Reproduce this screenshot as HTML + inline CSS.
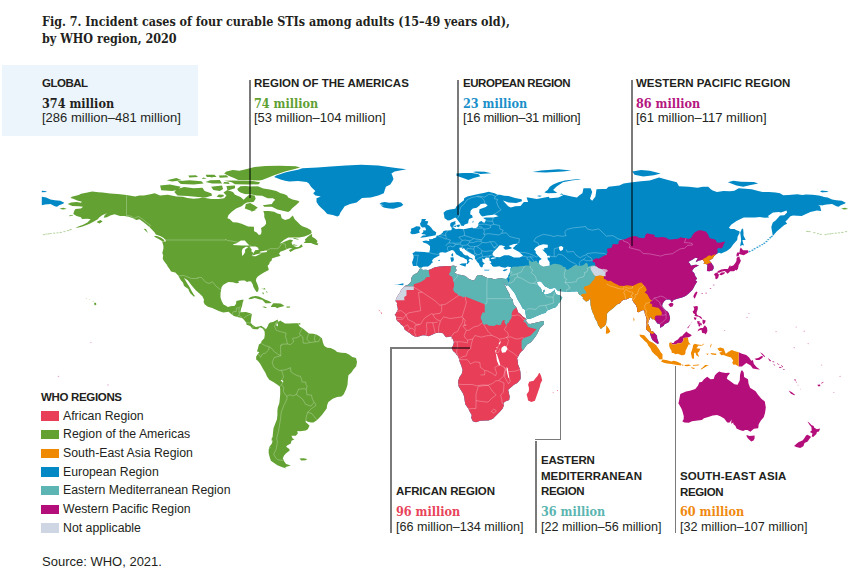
<!DOCTYPE html>
<html><head><meta charset="utf-8"><title>Fig. 7</title>
<style>
html,body{margin:0;padding:0;background:#fff;}
body{width:868px;height:585px;position:relative;overflow:hidden;font-family:"Liberation Sans",Arial,sans-serif;color:#231f20;}
.t{position:absolute;white-space:nowrap;}
.title{left:42px;top:14px;font-family:"DejaVu Serif Condensed","Liberation Serif",serif;font-weight:bold;font-size:12.44px;line-height:16.9px;color:#231f20;}
.glob{position:absolute;left:2px;top:65px;width:196px;height:71px;background:#ecf5fc;}
.h{font-size:11.5px;font-weight:bold;}
.n{font-family:"DejaVu Serif Condensed","Liberation Serif",serif;font-weight:bold;font-size:12.5px;}
.r{font-size:13px;}
.vl{position:absolute;width:1.6px;background:rgba(0,0,0,0.52);}
.hl{position:absolute;height:1.6px;background:rgba(0,0,0,0.52);}
.lg{font-size:12.3px;}
.sw{position:absolute;left:41px;width:18.4px;height:9.3px;}
</style></head><body>
<svg width="868" height="585" viewBox="0 0 868 585" style="position:absolute;left:0;top:0">
<defs><clipPath id="ae"><path d="M419.8 268.7L418.9 270.5L417.8 272.6L416.1 273.5L414.1 274.4L412.4 275.9L411.3 278.3L411.5 280.5L410.5 282.6L407.6 285.0L404.6 285.9L403.1 287.9L401.1 289.8L400.3 292.0L398.3 294.8L396.8 297.4L395.7 300.0L395.6 301.3L397.2 303.1L396.8 304.6L397.6 307.4L397.9 309.6L396.8 311.8L395.5 314.0L394.6 314.6L395.7 315.7L396.3 317.9L396.1 319.6L397.9 321.6L400.0 322.9L400.9 324.4L403.1 325.9L403.9 327.2L404.6 329.4L406.5 330.9L408.3 332.2L410.0 333.3L412.0 334.9L415.2 336.8L416.3 337.1L419.6 336.2L422.8 335.3L426.1 335.5L428.3 336.3L430.4 335.5L433.7 334.0L435.2 333.3L438.0 332.8L440.2 332.7L442.4 332.9L443.9 334.4L445.2 336.6L446.7 337.2L448.9 336.8L451.1 336.6L452.1 338.1L453.2 340.1L453.9 342.2L453.4 344.4L452.8 345.9L451.7 348.1L453.0 351.0L455.4 353.1L456.7 355.1L458.2 356.8L459.1 359.2L459.3 360.7L461.3 365.7L462.6 369.9L461.7 374.0L459.7 376.8L459.1 378.1L458.2 381.0L458.2 384.2L458.7 386.6L460.8 390.1L463.0 393.4L464.1 396.4L464.7 401.0L465.4 404.5L468.4 408.8L469.9 411.9L471.7 415.1L471.2 418.0L472.5 420.4L472.8 421.3L476.0 422.3L480.4 420.8L486.9 420.6L488.4 420.6L491.2 419.5L493.2 418.4L496.6 415.1L499.9 411.7L502.7 408.6L504.0 404.9L503.4 402.9L505.3 401.6L509.2 399.9L509.7 396.6L509.2 394.5L508.2 390.1L508.2 389.7L510.8 387.5L514.0 384.7L517.3 382.9L520.5 379.2L520.7 377.1L520.5 372.7L519.9 369.0L517.9 364.0L517.9 361.4L517.1 358.6L517.5 357.7L518.8 355.4L519.7 353.6L521.4 351.6L522.9 350.3L524.9 347.5L527.0 344.4L530.9 342.2L533.6 339.0L535.7 336.2L537.9 332.5L539.8 328.1L542.2 325.9L544.0 324.0L543.9 320.9L541.1 321.6L537.9 322.2L534.6 322.9L530.3 324.0L528.1 323.8L526.6 321.6L525.5 321.4L526.6 319.4L525.3 318.3L522.7 316.4L520.5 314.0L518.4 312.7L516.4 307.4L513.4 304.0L512.7 299.8L509.9 296.6L509.7 294.4L507.5 290.5L506.2 287.9L505.3 286.1L503.4 281.5L504.2 282.4L505.5 285.0L507.1 286.1L507.7 284.6L508.4 282.4L508.6 282.6L508.2 285.5L509.9 287.2L511.8 289.6L514.0 292.2L515.3 294.2L517.7 299.8L520.5 304.2L522.7 308.5L525.1 309.8L525.5 312.9L525.7 314.4L526.4 317.7L527.0 319.1L530.3 318.8L533.6 317.4L536.8 316.1L539.2 315.1L542.2 313.7L545.9 312.7L546.6 310.7L549.8 309.6L553.1 307.9L555.3 307.4L557.4 305.5L558.1 303.7L560.0 302.0L562.4 297.6L559.8 295.3L556.3 294.4L555.7 293.5L554.8 291.1L554.8 289.2L554.0 290.5L552.7 291.6L550.7 293.3L547.7 294.0L545.5 294.4L544.0 293.7L543.8 293.1L544.6 291.6L544.6 289.8L543.5 290.0L542.9 292.2L542.5 292.6L541.6 290.9L541.4 289.2L540.3 287.6L538.5 286.1L536.8 282.6L537.9 281.4L540.1 281.3L541.6 282.2L542.9 283.7L544.4 285.9L547.0 287.2L549.8 288.7L553.1 288.3L554.8 287.4L557.0 290.0L558.1 290.9L560.7 291.3L564.2 291.6L567.9 292.0L571.5 291.6L574.8 291.6L577.4 291.3L578.1 292.6L579.1 294.4L580.7 295.3L582.0 296.6L583.5 297.2L582.4 298.1L583.7 299.6L585.7 301.3L586.7 301.6L588.9 300.3L590.2 298.3L590.4 300.7L590.6 305.3L591.3 308.5L592.8 312.9L593.9 315.1L595.0 318.5L597.2 322.0L598.0 325.1L600.9 329.0L602.4 327.5L604.1 326.4L606.0 324.2L606.9 318.1L606.7 314.0L608.9 311.4L613.4 308.1L617.1 304.6L620.4 303.1L621.5 300.9L624.1 299.6L626.9 299.2L629.1 298.1L631.9 298.1L632.3 300.0L633.4 302.0L634.3 302.9L636.0 305.3L637.3 308.5L637.1 311.8L638.8 312.2L641.5 310.5L643.2 310.0L644.5 310.7L644.9 314.0L645.8 316.1L646.7 319.6L646.4 323.8L646.7 324.8L646.0 329.2L648.6 331.4L649.7 332.2L650.4 334.9L651.4 337.9L652.5 340.1L654.5 341.8L657.3 343.8L658.8 343.6L658.2 341.2L657.1 338.3L657.1 336.2L656.4 335.1L654.7 333.3L653.0 331.6L652.3 331.6L651.0 330.9L650.1 328.1L649.5 326.4L648.0 323.8L648.6 320.9L649.5 319.2L649.7 317.4L650.8 317.2L651.7 317.4L651.7 319.0L652.7 319.2L653.4 319.0L654.7 320.1L655.3 320.5L656.0 321.4L657.3 323.5L659.0 323.8L660.1 324.4L660.1 327.9L661.6 327.0L663.8 325.7L664.5 324.2L665.1 324.0L667.1 322.9L669.0 322.0L669.7 319.8L670.1 317.2L669.7 316.6L668.8 313.3L667.5 311.6L666.2 310.7L664.0 308.5L662.1 305.9L662.7 303.5L664.2 301.3L666.0 299.8L668.2 299.4L670.3 299.8L671.8 302.4L673.6 300.0L675.8 299.2L679.0 298.3L680.5 298.1L683.4 297.0L686.0 295.7L689.0 293.3L692.3 290.0L693.8 287.4L694.6 285.7L697.2 281.5L695.3 280.2L697.2 278.7L695.3 275.9L694.2 273.1L692.0 271.1L694.0 268.1L699.0 265.2L696.2 264.8L693.6 265.0L690.9 265.7L689.9 263.5L688.3 262.0L689.9 261.1L692.3 259.8L695.3 257.8L697.9 258.3L696.4 260.4L695.7 262.2L698.5 260.7L702.5 259.8L703.3 260.4L704.6 262.4L703.5 263.9L705.5 263.9L707.2 264.6L707.4 265.2L707.2 267.2L707.0 270.5L706.8 271.1L709.4 271.3L712.7 270.2L713.7 268.3L713.5 266.1L712.4 264.4L711.1 262.6L709.4 260.7L709.2 261.3L709.4 260.0L712.0 258.9L714.4 255.7L715.9 254.6L719.0 252.8L721.1 253.5L726.8 251.1L730.7 248.0L733.3 244.3L737.2 240.1L737.6 236.7L739.6 233.0L739.4 231.3L736.5 230.2L734.4 228.9L730.7 229.1L728.9 227.8L731.1 224.8L736.5 220.9L743.7 217.4L748.5 217.4L755.0 217.6L760.0 216.9L764.8 217.8L769.1 217.6L768.0 216.1L773.0 212.6L778.9 211.9L781.0 212.6L786.5 210.6L787.1 212.4L784.3 215.2L780.0 215.6L775.6 220.4L772.8 222.6L771.3 226.9L772.4 233.5L772.8 235.9L776.3 231.9L776.9 231.3L779.7 229.1L784.3 225.0L787.1 223.7L785.4 221.5L787.1 220.0L790.4 216.3L793.0 215.4L801.7 216.1L806.0 213.9L810.4 212.1L816.9 210.6L821.2 211.1L820.1 206.3L818.0 205.6L821.2 205.2L823.4 205.2L823.4 196.7L819.0 195.6L812.5 194.7L806.0 194.5L802.3 195.0L797.3 194.3L788.6 195.0L783.2 195.2L780.0 193.2L775.6 192.6L769.1 192.1L762.6 192.1L758.2 191.0L751.7 189.3L745.2 188.7L738.7 188.2L734.4 190.8L730.0 191.3L723.5 191.0L717.0 192.1L712.7 190.4L710.5 188.9L708.3 186.7L702.9 186.7L697.5 187.8L688.8 186.7L679.0 186.3L676.8 182.3L667.1 179.7L659.0 177.6L649.7 180.6L641.0 181.3L632.3 182.3L623.6 183.4L619.3 185.6L608.5 186.7L606.3 188.9L601.9 189.1L596.5 189.3L595.4 196.5L592.2 200.8L590.0 198.7L592.2 192.1L590.6 188.2L583.5 188.2L582.4 193.2L579.1 195.4L577.0 197.6L571.5 196.5L563.9 194.7L558.5 197.4L549.8 198.2L548.7 196.7L536.8 199.1L528.1 197.6L526.6 197.4L528.1 201.9L523.8 202.1L520.5 206.1L515.1 206.3L510.8 207.4L508.2 206.3L502.9 200.6L508.6 202.4L516.2 203.0L522.0 201.3L521.6 199.3L515.1 198.0L508.6 196.0L504.2 195.8L499.9 194.7L497.7 194.7L494.5 193.2L488.6 191.7L483.6 193.0L478.2 193.9L473.8 195.0L467.3 196.5L464.1 198.2L463.9 200.2L459.7 203.4L456.5 206.3L455.2 208.7L450.0 209.5L446.1 210.6L443.5 212.8L444.1 215.2L444.5 218.2L445.0 218.5L447.8 220.4L450.0 220.2L453.4 218.5L455.2 217.6L456.0 218.0L456.5 218.5L458.4 221.1L460.4 223.7L460.8 225.6L463.6 225.9L464.7 224.5L468.2 223.2L468.4 220.9L469.1 219.1L472.8 217.4L472.1 215.2L470.2 214.3L470.6 210.8L472.8 208.4L476.7 207.8L479.3 205.8L480.8 203.9L485.1 203.4L487.7 205.2L485.8 206.9L479.5 209.3L479.1 212.4L479.3 212.8L480.8 215.2L482.5 216.5L486.9 215.6L491.2 215.0L494.9 214.5L498.4 216.3L493.4 217.4L486.2 217.4L483.6 217.8L483.6 218.5L485.8 219.5L484.9 222.6L483.0 222.6L481.7 221.0L479.5 221.7L478.2 223.7L478.4 225.4L477.1 227.2L475.2 228.2L473.2 228.2L472.3 227.4L467.3 228.5L463.6 229.3L458.9 228.7L456.5 229.1L456.0 229.3L454.5 228.2L453.2 227.4L453.9 226.9L453.2 225.9L454.1 225.0L454.7 224.4L456.3 223.9L455.0 223.2L455.4 222.2L455.6 221.1L451.3 222.4L450.2 223.7L450.2 225.9L451.3 227.2L451.9 229.1L451.1 230.2L447.8 230.4L445.6 230.4L443.5 231.1L442.8 232.4L441.3 233.7L440.0 234.8L438.0 235.4L436.5 235.8L436.1 237.4L433.0 238.5L432.8 238.9L430.0 239.3L429.1 238.7L429.3 240.9L428.3 240.9L426.1 240.4L422.4 241.3L423.3 242.6L427.2 243.7L427.8 244.3L430.0 246.1L430.0 248.7L430.0 249.6L429.3 252.0L428.3 252.4L426.1 252.2L424.4 252.0L419.6 251.7L415.2 251.5L414.4 252.2L412.4 253.3L413.3 255.0L413.7 257.0L413.1 259.6L412.0 262.4L413.1 266.1L415.4 266.1L417.4 265.7L418.9 267.2L420.4 268.3L421.0 268.1L423.0 266.8L427.4 266.5L427.8 266.8L430.4 264.8L431.5 263.3L433.0 262.2L431.9 260.7L433.7 258.5L437.4 256.5L439.5 255.4L439.3 253.0L440.2 252.4L442.4 252.2L444.3 252.4L445.4 252.8L448.4 251.5L451.9 250.0L453.9 250.7L455.4 253.0L456.5 254.4L459.3 255.9L460.8 257.0L463.6 257.8L465.2 258.9L466.7 259.6L467.3 261.8L466.5 263.9L467.6 263.9L468.6 262.8L469.7 261.8L468.4 260.2L469.9 258.5L471.7 259.6L472.5 260.0L472.8 259.1L471.7 258.3L469.3 257.2L467.8 255.4L465.2 255.2L463.4 254.1L461.9 251.7L460.0 250.7L459.3 247.8L462.6 247.4L462.1 248.5L462.8 249.1L463.9 248.0L465.2 249.8L468.2 252.0L471.9 253.9L473.8 255.0L474.9 256.3L474.9 258.5L476.0 260.2L477.5 262.2L478.6 263.3L479.5 265.2L480.1 266.5L481.4 267.4L482.5 266.5L483.0 267.4L482.8 265.0L484.1 264.1L484.7 263.5L482.5 261.8L482.3 258.3L484.3 259.6L485.8 257.6L489.0 257.8L489.5 258.9L489.5 260.7L490.6 261.1L491.4 263.1L489.9 263.3L491.9 265.0L492.1 266.1L493.8 266.8L495.8 266.8L499.2 266.3L502.1 267.2L505.3 267.8L507.7 266.5L509.7 267.0L511.2 267.0L510.5 268.5L510.3 269.4L510.5 270.7L510.3 271.8L509.7 272.8L508.6 275.2L508.2 276.8L507.3 278.1L506.0 278.9L502.7 278.5L501.0 277.9L497.5 278.7L493.4 279.2L491.7 278.3L487.3 277.9L484.7 276.8L481.7 275.2L478.2 275.0L476.2 276.8L475.2 279.6L472.8 280.5L469.5 279.2L468.6 278.7L465.4 276.1L461.3 275.0L457.6 274.4L454.5 272.8L456.0 271.1L456.7 270.0L455.6 268.7L456.5 265.9L454.7 266.5L454.1 265.5L449.5 266.3L446.7 266.1L439.3 266.5L434.8 267.2L431.3 268.9L427.8 270.2L426.1 269.8L422.8 270.0L421.1 268.5Z"/></clipPath></defs>
<path fill="#62a132" d="M67.7 203.9L71.1 202.6L76.6 201.9L80.9 202.8L82.0 201.7L77.2 200.6L73.3 198.7L70.5 197.9L71.8 196.7L78.7 195.0L81.1 193.7L87.4 192.6L92.2 191.4L98.3 192.3L102.6 192.6L110.2 193.5L117.8 194.1L126.5 195.1L135.2 196.5L139.5 195.4L143.9 195.4L150.4 194.3L154.7 193.2L160.1 195.6L167.7 194.7L176.4 196.5L182.9 196.7L187.3 198.0L193.8 198.7L199.2 198.2L202.5 197.4L211.2 199.1L218.8 198.9L224.2 198.2L226.4 195.4L223.5 192.6L227.4 190.0L232.9 192.1L235.0 194.7L240.5 196.9L243.7 199.7L245.9 197.6L249.2 194.7L254.6 195.4L255.7 198.7L253.5 201.9L247.0 202.4L244.2 204.1L241.6 206.3L236.1 208.4L231.8 211.7L228.5 215.0L227.4 218.2L229.6 218.9L232.9 222.2L237.2 222.6L241.6 223.7L248.1 226.5L253.9 226.7L254.1 231.3L256.7 232.4L258.9 235.0L261.1 234.3L261.5 231.3L261.1 228.0L264.3 225.9L266.1 223.7L265.9 220.9L264.3 217.2L264.3 213.9L263.3 211.1L268.7 211.1L274.1 211.7L277.4 213.5L280.6 214.3L281.7 218.2L285.0 220.0L289.3 218.7L291.5 216.7L292.8 215.4L294.7 219.3L298.0 222.6L300.2 224.8L302.3 226.3L307.1 228.0L311.0 230.2L311.7 233.0L308.9 234.8L304.5 236.5L299.1 237.6L293.7 237.4L288.2 237.4L283.9 240.0L279.5 243.7L281.7 243.0L286.1 240.9L290.4 239.6L293.2 240.4L291.5 242.2L292.1 244.3L293.7 246.1L296.9 247.2L299.1 246.7L301.3 244.3L302.8 246.5L300.2 248.0L294.7 249.6L290.4 252.0L288.9 250.2L292.6 248.0L289.3 248.3L287.1 249.1L283.9 250.4L280.2 251.7L278.9 253.9L280.6 255.2L279.3 256.3L276.3 257.0L271.9 258.5L271.7 260.4L269.8 262.0L269.3 263.9L267.6 265.7L268.5 268.5L268.7 270.0L266.3 271.3L263.5 272.8L260.7 274.4L257.8 276.5L256.3 278.5L255.9 280.7L257.6 284.8L258.7 288.5L258.1 291.6L256.5 292.0L255.0 289.8L253.3 286.8L252.8 284.6L251.1 281.5L249.2 281.3L247.0 282.0L244.8 280.5L241.6 280.5L238.3 280.9L238.9 283.1L236.1 283.3L232.9 282.2L228.5 282.0L226.4 283.1L223.1 285.0L221.6 287.2L221.1 290.0L220.5 293.3L220.5 297.6L221.6 300.9L223.5 304.6L226.4 306.1L227.7 307.0L231.8 306.1L234.4 305.9L236.1 303.7L236.3 300.9L241.6 299.8L243.7 299.8L242.6 303.1L242.0 306.4L241.1 308.5L240.5 311.8L241.6 312.2L245.9 312.0L250.2 313.3L252.0 314.0L251.3 317.2L250.9 320.5L250.7 322.7L252.4 324.8L255.7 327.0L258.9 326.4L261.1 325.7L263.7 327.5L264.8 327.9L265.9 329.2L267.6 326.4L268.7 323.8L270.2 322.5L273.0 322.0L275.9 320.5L277.4 319.6L278.5 321.6L277.2 323.1L280.2 320.5L281.7 321.6L285.0 323.5L289.3 323.5L293.7 323.3L298.0 323.3L298.4 324.8L300.2 327.0L302.3 328.1L305.6 330.7L308.9 333.5L313.2 333.8L316.5 334.4L319.7 336.4L321.9 338.3L323.0 342.7L324.1 345.5L325.1 346.6L327.3 347.7L330.6 348.1L334.9 349.9L337.1 352.0L341.4 352.7L345.8 352.9L349.0 354.6L352.3 357.0L356.0 358.1L357.0 362.0L356.2 366.2L353.4 369.4L351.2 372.7L348.4 375.3L347.9 379.2L347.5 384.7L346.2 389.0L344.7 392.3L343.6 394.5L341.4 396.6L337.1 396.9L332.7 398.8L328.4 402.1L327.1 405.3L326.7 408.6L324.1 411.9L321.9 415.1L318.6 418.4L316.5 420.6L313.4 422.5L311.0 422.5L307.8 421.7L305.8 420.6L305.6 421.9L308.4 424.5L309.5 425.8L307.8 429.3L305.6 430.6L300.2 431.2L297.3 431.0L297.8 433.6L295.8 435.8L291.5 435.8L292.6 438.6L294.5 439.3L291.5 440.8L290.8 443.4L287.1 445.6L286.1 446.7L289.3 448.9L289.7 450.6L286.1 453.2L283.9 455.8L282.8 458.6L284.1 460.6L283.9 461.0L286.1 464.1L290.8 465.6L288.2 466.3L285.0 467.3L286.5 468.4L281.7 466.9L277.4 465.2L274.1 463.0L270.9 460.8L269.8 457.6L268.7 453.2L268.7 448.9L270.9 446.7L268.5 448.0L271.9 443.4L273.0 439.1L272.6 436.9L273.0 432.5L273.5 428.2L275.2 423.8L276.9 419.5L277.4 415.1L277.4 410.8L277.8 407.5L279.3 403.2L279.8 398.8L280.2 394.5L280.2 389.0L279.8 386.4L277.4 384.7L274.1 382.5L269.3 379.7L267.0 376.6L265.4 372.7L262.8 368.4L260.2 363.8L257.8 360.7L256.3 359.7L256.1 356.8L257.8 354.0L259.4 352.0L257.0 351.4L258.1 347.7L258.9 344.6L261.1 343.1L261.5 341.2L264.3 338.3L264.8 334.6L264.6 331.4L262.6 328.5L260.0 327.2L257.8 329.2L255.7 329.2L252.6 329.0L250.2 325.9L246.5 324.8L246.3 322.7L243.7 319.4L242.0 317.9L238.3 317.2L234.0 316.1L231.8 314.6L228.5 311.8L225.3 312.2L223.1 312.4L218.8 311.1L215.5 309.6L212.2 307.9L207.9 306.8L204.6 304.2L203.6 302.0L204.0 299.8L202.5 296.6L199.2 293.3L196.0 290.5L192.7 286.8L190.5 283.9L187.7 280.2L184.0 278.1L187.3 283.5L189.4 286.8L191.6 291.1L193.4 294.0L194.9 296.1L194.0 296.8L192.7 295.5L190.5 293.5L189.0 291.1L188.4 288.9L185.1 286.8L184.0 285.7L182.9 282.4L180.8 280.2L179.0 277.0L178.2 275.5L175.3 272.6L171.0 271.5L169.9 269.4L167.7 266.5L166.7 264.4L165.6 263.3L163.8 260.7L162.7 258.7L163.2 255.2L162.3 253.0L163.4 248.7L163.4 245.9L162.1 241.3L165.6 241.7L165.6 240.0L163.4 237.8L160.1 236.1L155.8 234.6L154.7 232.4L150.4 228.0L148.2 225.9L143.9 222.6L139.5 219.3L136.3 220.0L133.0 218.2L128.7 216.7L124.3 216.1L120.0 216.1L114.5 214.3L110.2 215.4L107.0 217.2L103.7 217.8L104.8 215.0L107.0 213.2L102.6 215.0L99.4 217.2L97.8 219.3L93.9 221.5L89.6 223.7L85.2 225.4L80.9 226.9L75.5 228.0L77.6 226.7L83.1 224.8L87.4 222.6L90.7 219.3L87.4 218.7L82.0 219.1L80.9 217.2L76.6 216.1L73.3 214.1L74.4 210.6L75.5 209.1L80.9 208.4L83.1 206.7L78.7 206.3L72.2 206.1ZM299.5 201.7L295.8 205.2L291.9 208.4L290.4 210.4L288.2 211.9L283.9 211.1L277.4 209.5L271.9 206.7L264.3 206.7L262.8 205.2L271.9 204.1L273.0 201.9L275.2 199.7L273.0 198.2L267.6 198.2L262.2 195.8L256.7 195.4L250.2 194.3L244.8 193.9L240.5 192.6L238.3 191.0L237.2 188.9L240.5 186.3L245.9 186.0L250.2 186.5L257.8 186.3L263.3 188.4L269.8 189.5L276.3 191.0L280.6 193.2L283.9 193.9L287.1 195.6L288.2 197.6L292.6 199.5L298.0 200.8ZM258.9 180.6L262.2 179.9L269.8 176.9L274.1 175.2L280.6 173.0L285.0 171.5L293.7 169.3L300.2 167.5L295.8 166.2L279.5 165.8L265.4 166.0L254.6 167.1L245.9 169.3L239.4 170.8L232.9 169.9L226.4 171.5L224.2 173.6L228.5 175.8L234.0 178.0L238.3 179.9L243.7 180.2L252.4 180.2ZM258.9 184.3L248.1 184.5L235.0 184.3L231.8 182.3L224.2 180.8L232.9 180.4L241.6 180.8L252.4 181.0L260.0 182.3ZM235.0 185.6L226.4 186.0L227.4 190.0L229.6 190.0L235.0 188.2ZM222.0 185.6L211.2 186.7L213.3 190.0L219.8 191.0L223.1 188.9ZM212.2 195.4L205.7 197.6L198.1 196.9L187.3 196.0L177.5 195.4L174.3 192.1L177.5 188.9L184.0 187.1L193.8 188.2L202.5 187.8L204.6 191.0L211.2 193.2ZM172.1 191.0L161.2 190.2L160.1 185.6L169.9 184.5L180.8 186.7L177.5 190.0ZM224.2 196.0L220.9 197.6L216.6 196.7L218.8 194.5L223.1 194.7ZM203.6 183.4L193.8 184.5L180.8 183.9L177.5 181.3L189.4 180.2L201.4 181.3ZM222.0 183.4L212.2 183.6L205.7 182.1L210.1 180.2L219.8 179.9ZM206.8 178.6L201.8 179.1L203.3 177.6ZM213.3 177.3L210.5 177.6L211.6 176.5ZM229.6 183.9L223.1 183.6L224.2 182.1L228.5 182.3ZM181.8 180.2L172.1 181.5L166.7 180.2L176.4 178.0ZM216.6 176.9L206.8 177.1L205.7 174.7L214.4 174.7ZM228.5 177.3L219.8 177.8L218.8 175.4L226.4 175.2ZM198.1 176.9L189.4 177.6L188.4 175.6L196.0 175.2ZM257.8 207.8L252.4 211.3L244.8 208.4L245.9 204.1L250.2 203.0L254.6 205.6ZM256.7 209.8L251.3 211.7L251.3 210.0ZM303.6 243.0L305.6 241.1L304.9 239.6L307.8 236.7L311.0 234.3L312.1 234.3L312.1 236.7L315.4 238.7L317.5 240.9L316.5 243.3L318.4 243.3L317.5 245.2L315.4 244.8L313.2 243.9L311.0 243.0L307.8 243.0ZM298.4 239.8L292.6 238.5L294.7 238.0L298.4 239.1ZM298.0 245.7L292.8 245.2L293.7 244.3L296.9 245.2ZM164.7 241.3L161.9 240.9L159.1 239.3L155.8 237.6L153.8 236.1L156.9 236.1L161.2 237.8L163.6 239.6ZM148.2 233.0L146.0 231.3L143.6 228.7L146.0 229.1L146.9 230.9ZM102.6 221.5L99.4 223.5L96.5 221.9L100.4 220.0ZM66.8 209.1L62.4 209.5L59.6 208.4L63.5 207.8ZM73.3 215.8L69.0 216.3L69.6 215.2L72.6 215.2ZM248.3 299.0L250.2 297.2L252.4 296.6L255.7 296.1L258.9 296.6L262.2 297.9L265.4 299.8L267.6 300.5L269.8 301.6L271.7 302.7L269.8 303.3L265.4 303.3L263.9 301.6L262.2 299.8L260.0 299.6L256.7 298.5L254.6 298.1L252.4 298.7L249.6 299.2ZM270.9 306.6L273.2 303.3L275.2 303.3L280.6 303.5L282.8 304.8L284.3 306.1L281.7 306.8L278.5 307.4L277.4 308.3L275.2 307.0L271.1 307.0ZM262.4 306.8L264.3 306.4L267.2 307.4L265.4 307.9L263.3 307.2ZM286.5 306.6L290.2 306.6L290.0 307.4L286.7 307.7ZM298.2 324.6L300.4 324.6L300.2 323.1L298.6 323.3ZM263.3 294.4L263.9 293.3L262.8 292.0L262.4 293.3ZM261.1 288.7L263.3 288.7L265.0 288.1L265.4 289.4L263.3 289.2ZM265.9 291.3L267.2 291.6L267.4 292.9L266.5 292.2ZM94.1 304.0L95.0 305.5L96.5 304.2L95.7 302.7L94.4 302.7ZM92.4 301.1L93.9 301.6L93.1 301.8ZM88.9 299.6L90.2 300.3L89.6 299.4ZM85.7 298.7L86.8 298.7L86.3 298.3ZM68.3 230.2L71.8 229.1L71.1 230.0ZM299.5 458.6L303.4 458.2L307.3 458.9L305.6 460.2L301.3 460.4ZM271.9 437.5L273.2 437.5L273.0 440.8L271.5 440.6Z"/>
<path fill="#62a132" d="M848.3 209.1L844.0 209.5L841.2 208.4L845.1 207.8Z"/>
<path fill="#62a132" fill-opacity="0.45" d="M66.6 230.6a1.3 0.6 0 1 0 2.6 0a1.3 0.6 0 1 0 -2.6 0ZM63.1 231.6a1.3 0.6 0 1 0 2.6 0a1.3 0.6 0 1 0 -2.6 0ZM844.7 231.6a1.3 0.6 0 1 0 2.6 0a1.3 0.6 0 1 0 -2.6 0ZM59.4 232.4a1.3 0.6 0 1 0 2.6 0a1.3 0.6 0 1 0 -2.6 0ZM841.0 232.4a1.3 0.6 0 1 0 2.6 0a1.3 0.6 0 1 0 -2.6 0ZM56.2 232.8a1.3 0.6 0 1 0 2.6 0a1.3 0.6 0 1 0 -2.6 0ZM837.7 232.8a1.3 0.6 0 1 0 2.6 0a1.3 0.6 0 1 0 -2.6 0ZM52.9 233.1a1.3 0.6 0 1 0 2.6 0a1.3 0.6 0 1 0 -2.6 0ZM834.5 233.1a1.3 0.6 0 1 0 2.6 0a1.3 0.6 0 1 0 -2.6 0ZM49.6 233.5a1.3 0.6 0 1 0 2.6 0a1.3 0.6 0 1 0 -2.6 0ZM831.2 233.5a1.3 0.6 0 1 0 2.6 0a1.3 0.6 0 1 0 -2.6 0ZM47.5 233.8a1.3 0.6 0 1 0 2.6 0a1.3 0.6 0 1 0 -2.6 0ZM829.0 233.8a1.3 0.6 0 1 0 2.6 0a1.3 0.6 0 1 0 -2.6 0ZM45.1 234.0a1.3 0.6 0 1 0 2.6 0a1.3 0.6 0 1 0 -2.6 0ZM826.6 234.0a1.3 0.6 0 1 0 2.6 0a1.3 0.6 0 1 0 -2.6 0ZM42.7 234.6a1.3 0.6 0 1 0 2.6 0a1.3 0.6 0 1 0 -2.6 0ZM824.3 234.6a1.3 0.6 0 1 0 2.6 0a1.3 0.6 0 1 0 -2.6 0ZM819.5 234.3a1.3 0.6 0 1 0 2.6 0a1.3 0.6 0 1 0 -2.6 0ZM816.7 233.6a1.3 0.6 0 1 0 2.6 0a1.3 0.6 0 1 0 -2.6 0ZM813.0 232.6a1.3 0.6 0 1 0 2.6 0a1.3 0.6 0 1 0 -2.6 0ZM808.2 231.6a1.3 0.6 0 1 0 2.6 0a1.3 0.6 0 1 0 -2.6 0ZM806.0 231.4a1.3 0.6 0 1 0 2.6 0a1.3 0.6 0 1 0 -2.6 0Z"/>
<path fill="#0289c5" fill-opacity="0.8" d="M748.5 251.5a1.1 0.7 0 1 0 2.2 0a1.1 0.7 0 1 0 -2.2 0ZM751.3 250.2a1.1 0.7 0 1 0 2.2 0a1.1 0.7 0 1 0 -2.2 0ZM753.5 248.7a1.1 0.7 0 1 0 2.2 0a1.1 0.7 0 1 0 -2.2 0ZM756.3 247.2a1.1 0.7 0 1 0 2.2 0a1.1 0.7 0 1 0 -2.2 0ZM758.7 245.9a1.1 0.7 0 1 0 2.2 0a1.1 0.7 0 1 0 -2.2 0ZM761.1 244.6a1.1 0.7 0 1 0 2.2 0a1.1 0.7 0 1 0 -2.2 0ZM763.2 243.3a1.1 0.7 0 1 0 2.2 0a1.1 0.7 0 1 0 -2.2 0ZM765.4 241.5a1.1 0.7 0 1 0 2.2 0a1.1 0.7 0 1 0 -2.2 0ZM767.1 239.6a1.1 0.7 0 1 0 2.2 0a1.1 0.7 0 1 0 -2.2 0ZM769.1 237.8a1.1 0.7 0 1 0 2.2 0a1.1 0.7 0 1 0 -2.2 0ZM770.6 236.5a1.1 0.7 0 1 0 2.2 0a1.1 0.7 0 1 0 -2.2 0Z"/>
<path fill="#b40e7b" fill-opacity="0.6" d="M712.8 285.0a0.9 0.6 0 1 0 1.8 0a0.9 0.6 0 1 0 -1.8 0ZM709.6 288.5a0.9 0.6 0 1 0 1.8 0a0.9 0.6 0 1 0 -1.8 0ZM705.2 293.1a0.9 0.6 0 1 0 1.8 0a0.9 0.6 0 1 0 -1.8 0ZM701.3 293.5a0.9 0.6 0 1 0 1.8 0a0.9 0.6 0 1 0 -1.8 0Z"/>
<path fill="#b40e7b" fill-opacity="0.35" d="M57.7 376.4a0.8 0.6 0 1 0 1.6 0a0.8 0.6 0 1 0 -1.6 0ZM839.3 376.4a0.8 0.6 0 1 0 1.6 0a0.8 0.6 0 1 0 -1.6 0ZM51.4 392.5a0.8 0.6 0 1 0 1.6 0a0.8 0.6 0 1 0 -1.6 0ZM833.0 392.5a0.8 0.6 0 1 0 1.6 0a0.8 0.6 0 1 0 -1.6 0ZM107.2 384.9a0.8 0.6 0 1 0 1.6 0a0.8 0.6 0 1 0 -1.6 0ZM775.3 331.6a0.8 0.6 0 1 0 1.6 0a0.8 0.6 0 1 0 -1.6 0ZM803.5 331.2a0.8 0.6 0 1 0 1.6 0a0.8 0.6 0 1 0 -1.6 0ZM807.4 343.6a0.8 0.6 0 1 0 1.6 0a0.8 0.6 0 1 0 -1.6 0ZM820.8 365.1a0.8 0.6 0 1 0 1.6 0a0.8 0.6 0 1 0 -1.6 0ZM723.8 330.5a0.8 0.6 0 1 0 1.6 0a0.8 0.6 0 1 0 -1.6 0ZM746.2 317.4a0.8 0.6 0 1 0 1.6 0a0.8 0.6 0 1 0 -1.6 0ZM748.1 313.5a0.8 0.6 0 1 0 1.6 0a0.8 0.6 0 1 0 -1.6 0ZM795.4 327.0a0.8 0.6 0 1 0 1.6 0a0.8 0.6 0 1 0 -1.6 0ZM793.5 347.7a0.8 0.6 0 1 0 1.6 0a0.8 0.6 0 1 0 -1.6 0ZM90.1 342.5a0.8 0.6 0 1 0 1.6 0a0.8 0.6 0 1 0 -1.6 0ZM84.9 392.7a0.8 0.6 0 1 0 1.6 0a0.8 0.6 0 1 0 -1.6 0Z"/>
<path fill="#0289c5" d="M337.3 216.5L339.2 215.6L340.3 212.8L342.5 209.5L344.7 206.3L350.1 203.9L356.6 202.4L362.0 198.0L370.7 197.6L378.3 195.4L383.8 193.2L384.8 190.0L385.9 186.7L390.3 184.5L392.4 181.3L393.5 179.1L392.4 175.8L391.4 173.6L394.6 171.5L406.5 169.3L397.9 168.2L387.0 166.7L378.3 165.4L361.0 164.7L345.8 165.4L330.6 166.5L317.5 167.5L302.3 168.2L298.0 169.7L291.5 171.0L285.0 172.6L276.3 175.4L274.1 176.9L280.6 179.5L285.0 180.8L289.3 181.5L298.0 181.0L306.7 181.9L308.9 183.6L311.0 186.7L313.2 188.9L315.4 191.0L313.2 193.2L315.4 195.4L320.8 196.5L316.5 198.2L316.5 201.9L318.6 205.2L320.8 207.4L324.1 210.6L327.3 213.9L332.7 215.0ZM384.8 207.8L389.2 208.4L393.5 208.7L397.9 207.4L401.1 206.5L403.3 204.8L401.1 202.6L397.9 201.9L393.5 202.6L389.2 202.8L384.8 202.1L381.6 202.6L379.4 204.1L383.8 205.2L380.5 205.6L383.8 207.4ZM420.2 237.8L425.0 237.2L430.4 236.3L435.6 235.2L436.3 232.4L434.8 231.3L433.0 230.2L431.5 228.0L429.1 225.6L427.2 224.8L428.3 221.3L425.0 221.1L426.1 219.1L421.7 219.1L421.3 221.5L420.0 223.7L420.7 225.9L422.2 227.4L425.2 227.2L426.1 230.2L422.8 230.6L423.5 231.7L421.3 234.1L425.0 234.6L426.1 235.2L422.8 235.4ZM419.6 233.0L419.1 230.4L420.7 228.0L419.6 226.5L416.3 226.3L414.1 227.4L410.9 228.7L411.3 230.2L410.2 233.0L412.0 234.3L415.2 233.9L418.7 233.0ZM459.5 264.4L461.5 263.5L466.5 263.3L465.4 266.8L463.6 266.1L459.7 264.8ZM450.4 257.6L453.4 257.2L453.9 259.6L453.4 261.3L451.3 262.0L450.8 259.8ZM451.3 254.4L453.0 253.0L453.2 255.2L452.6 256.5L451.5 255.9ZM483.6 269.8L489.7 269.8L489.0 270.5L484.7 270.5ZM502.7 270.7L504.2 269.6L507.7 268.9L506.4 270.5L504.2 271.3ZM437.8 260.4L439.3 259.8L440.2 260.2L439.1 261.1ZM456.7 226.3L458.2 227.2L460.0 225.9L459.5 224.5L456.9 224.9L456.3 225.4ZM453.9 225.9L455.4 225.6L456.3 226.3L455.6 226.9L454.3 226.7ZM471.9 222.2L473.8 220.6L473.2 222.6ZM456.5 175.8L463.0 178.0L468.4 179.9L473.8 178.0L480.4 176.3L478.2 174.1L471.7 173.0L463.0 173.0L456.5 173.6ZM472.8 172.1L480.4 173.9L491.2 173.2L484.7 171.7L476.0 171.5ZM532.5 171.9L545.5 172.6L562.9 171.5L571.5 170.4L558.5 169.3L541.1 170.4ZM544.4 192.6L547.7 193.2L557.4 193.0L553.1 190.0L556.3 186.7L562.9 182.3L571.5 180.6L581.3 179.3L578.1 179.1L565.0 180.6L558.5 182.3L553.1 184.5L549.8 186.7L547.7 190.0L545.5 191.5ZM559.6 194.3L563.9 195.0L561.8 193.4ZM536.8 196.0L540.1 196.7L541.8 195.8L539.0 195.4ZM634.5 174.7L643.2 176.5L654.0 175.2L660.6 173.6L649.7 170.8L641.0 169.9L632.3 171.5ZM727.9 182.3L736.5 185.6L743.1 186.7L749.6 185.2L758.2 183.4L753.9 181.9L740.9 181.7L733.3 180.8ZM820.1 192.1L823.4 192.3L823.4 190.8L821.2 190.8ZM41.8 192.3L47.2 191.9L45.1 191.0L41.8 190.8ZM740.2 246.5L742.0 245.0L744.1 245.4L743.1 243.3L742.4 240.0L745.7 240.0L743.5 235.6L743.5 232.4L743.1 229.1L742.0 228.5L741.3 230.2L740.2 232.4L740.9 237.8L741.1 241.1L740.4 244.3ZM393.5 284.4L403.3 285.2L403.5 283.3L397.9 284.4Z"/>
<path fill="#0289c5" d="M41.8 205.2L45.1 204.5L50.5 204.1L54.8 206.3L57.0 206.7L59.2 205.2L63.5 203.4L64.2 202.8L60.3 200.8L54.8 200.2L50.5 199.5L46.2 197.6L41.8 196.7ZM822.1 205.2L826.6 204.5L832.1 204.1L836.4 206.3L838.6 206.7L840.7 205.2L845.1 203.4L845.7 202.8L841.8 200.8L836.4 200.2L832.1 199.5L827.7 197.6L822.1 196.7ZM822.1 192.3L828.8 191.9L826.6 191.0L822.1 190.8Z"/>
<path fill="#0289c5" d="M419.8 268.7L418.9 270.5L417.8 272.6L416.1 273.5L414.1 274.4L412.4 275.9L411.3 278.3L411.5 280.5L410.5 282.6L407.6 285.0L404.6 285.9L403.1 287.9L401.1 289.8L400.3 292.0L398.3 294.8L396.8 297.4L395.7 300.0L395.6 301.3L397.2 303.1L396.8 304.6L397.6 307.4L397.9 309.6L396.8 311.8L395.5 314.0L394.6 314.6L395.7 315.7L396.3 317.9L396.1 319.6L397.9 321.6L400.0 322.9L400.9 324.4L403.1 325.9L403.9 327.2L404.6 329.4L406.5 330.9L408.3 332.2L410.0 333.3L412.0 334.9L415.2 336.8L416.3 337.1L419.6 336.2L422.8 335.3L426.1 335.5L428.3 336.3L430.4 335.5L433.7 334.0L435.2 333.3L438.0 332.8L440.2 332.7L442.4 332.9L443.9 334.4L445.2 336.6L446.7 337.2L448.9 336.8L451.1 336.6L452.1 338.1L453.2 340.1L453.9 342.2L453.4 344.4L452.8 345.9L451.7 348.1L453.0 351.0L455.4 353.1L456.7 355.1L458.2 356.8L459.1 359.2L459.3 360.7L461.3 365.7L462.6 369.9L461.7 374.0L459.7 376.8L459.1 378.1L458.2 381.0L458.2 384.2L458.7 386.6L460.8 390.1L463.0 393.4L464.1 396.4L464.7 401.0L465.4 404.5L468.4 408.8L469.9 411.9L471.7 415.1L471.2 418.0L472.5 420.4L472.8 421.3L476.0 422.3L480.4 420.8L486.9 420.6L488.4 420.6L491.2 419.5L493.2 418.4L496.6 415.1L499.9 411.7L502.7 408.6L504.0 404.9L503.4 402.9L505.3 401.6L509.2 399.9L509.7 396.6L509.2 394.5L508.2 390.1L508.2 389.7L510.8 387.5L514.0 384.7L517.3 382.9L520.5 379.2L520.7 377.1L520.5 372.7L519.9 369.0L517.9 364.0L517.9 361.4L517.1 358.6L517.5 357.7L518.8 355.4L519.7 353.6L521.4 351.6L522.9 350.3L524.9 347.5L527.0 344.4L530.9 342.2L533.6 339.0L535.7 336.2L537.9 332.5L539.8 328.1L542.2 325.9L544.0 324.0L543.9 320.9L541.1 321.6L537.9 322.2L534.6 322.9L530.3 324.0L528.1 323.8L526.6 321.6L525.5 321.4L526.6 319.4L525.3 318.3L522.7 316.4L520.5 314.0L518.4 312.7L516.4 307.4L513.4 304.0L512.7 299.8L509.9 296.6L509.7 294.4L507.5 290.5L506.2 287.9L505.3 286.1L503.4 281.5L504.2 282.4L505.5 285.0L507.1 286.1L507.7 284.6L508.4 282.4L508.6 282.6L508.2 285.5L509.9 287.2L511.8 289.6L514.0 292.2L515.3 294.2L517.7 299.8L520.5 304.2L522.7 308.5L525.1 309.8L525.5 312.9L525.7 314.4L526.4 317.7L527.0 319.1L530.3 318.8L533.6 317.4L536.8 316.1L539.2 315.1L542.2 313.7L545.9 312.7L546.6 310.7L549.8 309.6L553.1 307.9L555.3 307.4L557.4 305.5L558.1 303.7L560.0 302.0L562.4 297.6L559.8 295.3L556.3 294.4L555.7 293.5L554.8 291.1L554.8 289.2L554.0 290.5L552.7 291.6L550.7 293.3L547.7 294.0L545.5 294.4L544.0 293.7L543.8 293.1L544.6 291.6L544.6 289.8L543.5 290.0L542.9 292.2L542.5 292.6L541.6 290.9L541.4 289.2L540.3 287.6L538.5 286.1L536.8 282.6L537.9 281.4L540.1 281.3L541.6 282.2L542.9 283.7L544.4 285.9L547.0 287.2L549.8 288.7L553.1 288.3L554.8 287.4L557.0 290.0L558.1 290.9L560.7 291.3L564.2 291.6L567.9 292.0L571.5 291.6L574.8 291.6L577.4 291.3L578.1 292.6L579.1 294.4L580.7 295.3L582.0 296.6L583.5 297.2L582.4 298.1L583.7 299.6L585.7 301.3L586.7 301.6L588.9 300.3L590.2 298.3L590.4 300.7L590.6 305.3L591.3 308.5L592.8 312.9L593.9 315.1L595.0 318.5L597.2 322.0L598.0 325.1L600.9 329.0L602.4 327.5L604.1 326.4L606.0 324.2L606.9 318.1L606.7 314.0L608.9 311.4L613.4 308.1L617.1 304.6L620.4 303.1L621.5 300.9L624.1 299.6L626.9 299.2L629.1 298.1L631.9 298.1L632.3 300.0L633.4 302.0L634.3 302.9L636.0 305.3L637.3 308.5L637.1 311.8L638.8 312.2L641.5 310.5L643.2 310.0L644.5 310.7L644.9 314.0L645.8 316.1L646.7 319.6L646.4 323.8L646.7 324.8L646.0 329.2L648.6 331.4L649.7 332.2L650.4 334.9L651.4 337.9L652.5 340.1L654.5 341.8L657.3 343.8L658.8 343.6L658.2 341.2L657.1 338.3L657.1 336.2L656.4 335.1L654.7 333.3L653.0 331.6L652.3 331.6L651.0 330.9L650.1 328.1L649.5 326.4L648.0 323.8L648.6 320.9L649.5 319.2L649.7 317.4L650.8 317.2L651.7 317.4L651.7 319.0L652.7 319.2L653.4 319.0L654.7 320.1L655.3 320.5L656.0 321.4L657.3 323.5L659.0 323.8L660.1 324.4L660.1 327.9L661.6 327.0L663.8 325.7L664.5 324.2L665.1 324.0L667.1 322.9L669.0 322.0L669.7 319.8L670.1 317.2L669.7 316.6L668.8 313.3L667.5 311.6L666.2 310.7L664.0 308.5L662.1 305.9L662.7 303.5L664.2 301.3L666.0 299.8L668.2 299.4L670.3 299.8L671.8 302.4L673.6 300.0L675.8 299.2L679.0 298.3L680.5 298.1L683.4 297.0L686.0 295.7L689.0 293.3L692.3 290.0L693.8 287.4L694.6 285.7L697.2 281.5L695.3 280.2L697.2 278.7L695.3 275.9L694.2 273.1L692.0 271.1L694.0 268.1L699.0 265.2L696.2 264.8L693.6 265.0L690.9 265.7L689.9 263.5L688.3 262.0L689.9 261.1L692.3 259.8L695.3 257.8L697.9 258.3L696.4 260.4L695.7 262.2L698.5 260.7L702.5 259.8L703.3 260.4L704.6 262.4L703.5 263.9L705.5 263.9L707.2 264.6L707.4 265.2L707.2 267.2L707.0 270.5L706.8 271.1L709.4 271.3L712.7 270.2L713.7 268.3L713.5 266.1L712.4 264.4L711.1 262.6L709.4 260.7L709.2 261.3L709.4 260.0L712.0 258.9L714.4 255.7L715.9 254.6L719.0 252.8L721.1 253.5L726.8 251.1L730.7 248.0L733.3 244.3L737.2 240.1L737.6 236.7L739.6 233.0L739.4 231.3L736.5 230.2L734.4 228.9L730.7 229.1L728.9 227.8L731.1 224.8L736.5 220.9L743.7 217.4L748.5 217.4L755.0 217.6L760.0 216.9L764.8 217.8L769.1 217.6L768.0 216.1L773.0 212.6L778.9 211.9L781.0 212.6L786.5 210.6L787.1 212.4L784.3 215.2L780.0 215.6L775.6 220.4L772.8 222.6L771.3 226.9L772.4 233.5L772.8 235.9L776.3 231.9L776.9 231.3L779.7 229.1L784.3 225.0L787.1 223.7L785.4 221.5L787.1 220.0L790.4 216.3L793.0 215.4L801.7 216.1L806.0 213.9L810.4 212.1L816.9 210.6L821.2 211.1L820.1 206.3L818.0 205.6L821.2 205.2L823.4 205.2L823.4 196.7L819.0 195.6L812.5 194.7L806.0 194.5L802.3 195.0L797.3 194.3L788.6 195.0L783.2 195.2L780.0 193.2L775.6 192.6L769.1 192.1L762.6 192.1L758.2 191.0L751.7 189.3L745.2 188.7L738.7 188.2L734.4 190.8L730.0 191.3L723.5 191.0L717.0 192.1L712.7 190.4L710.5 188.9L708.3 186.7L702.9 186.7L697.5 187.8L688.8 186.7L679.0 186.3L676.8 182.3L667.1 179.7L659.0 177.6L649.7 180.6L641.0 181.3L632.3 182.3L623.6 183.4L619.3 185.6L608.5 186.7L606.3 188.9L601.9 189.1L596.5 189.3L595.4 196.5L592.2 200.8L590.0 198.7L592.2 192.1L590.6 188.2L583.5 188.2L582.4 193.2L579.1 195.4L577.0 197.6L571.5 196.5L563.9 194.7L558.5 197.4L549.8 198.2L548.7 196.7L536.8 199.1L528.1 197.6L526.6 197.4L528.1 201.9L523.8 202.1L520.5 206.1L515.1 206.3L510.8 207.4L508.2 206.3L502.9 200.6L508.6 202.4L516.2 203.0L522.0 201.3L521.6 199.3L515.1 198.0L508.6 196.0L504.2 195.8L499.9 194.7L497.7 194.7L494.5 193.2L488.6 191.7L483.6 193.0L478.2 193.9L473.8 195.0L467.3 196.5L464.1 198.2L463.9 200.2L459.7 203.4L456.5 206.3L455.2 208.7L450.0 209.5L446.1 210.6L443.5 212.8L444.1 215.2L444.5 218.2L445.0 218.5L447.8 220.4L450.0 220.2L453.4 218.5L455.2 217.6L456.0 218.0L456.5 218.5L458.4 221.1L460.4 223.7L460.8 225.6L463.6 225.9L464.7 224.5L468.2 223.2L468.4 220.9L469.1 219.1L472.8 217.4L472.1 215.2L470.2 214.3L470.6 210.8L472.8 208.4L476.7 207.8L479.3 205.8L480.8 203.9L485.1 203.4L487.7 205.2L485.8 206.9L479.5 209.3L479.1 212.4L479.3 212.8L480.8 215.2L482.5 216.5L486.9 215.6L491.2 215.0L494.9 214.5L498.4 216.3L493.4 217.4L486.2 217.4L483.6 217.8L483.6 218.5L485.8 219.5L484.9 222.6L483.0 222.6L481.7 221.0L479.5 221.7L478.2 223.7L478.4 225.4L477.1 227.2L475.2 228.2L473.2 228.2L472.3 227.4L467.3 228.5L463.6 229.3L458.9 228.7L456.5 229.1L456.0 229.3L454.5 228.2L453.2 227.4L453.9 226.9L453.2 225.9L454.1 225.0L454.7 224.4L456.3 223.9L455.0 223.2L455.4 222.2L455.6 221.1L451.3 222.4L450.2 223.7L450.2 225.9L451.3 227.2L451.9 229.1L451.1 230.2L447.8 230.4L445.6 230.4L443.5 231.1L442.8 232.4L441.3 233.7L440.0 234.8L438.0 235.4L436.5 235.8L436.1 237.4L433.0 238.5L432.8 238.9L430.0 239.3L429.1 238.7L429.3 240.9L428.3 240.9L426.1 240.4L422.4 241.3L423.3 242.6L427.2 243.7L427.8 244.3L430.0 246.1L430.0 248.7L430.0 249.6L429.3 252.0L428.3 252.4L426.1 252.2L424.4 252.0L419.6 251.7L415.2 251.5L414.4 252.2L412.4 253.3L413.3 255.0L413.7 257.0L413.1 259.6L412.0 262.4L413.1 266.1L415.4 266.1L417.4 265.7L418.9 267.2L420.4 268.3L421.0 268.1L423.0 266.8L427.4 266.5L427.8 266.8L430.4 264.8L431.5 263.3L433.0 262.2L431.9 260.7L433.7 258.5L437.4 256.5L439.5 255.4L439.3 253.0L440.2 252.4L442.4 252.2L444.3 252.4L445.4 252.8L448.4 251.5L451.9 250.0L453.9 250.7L455.4 253.0L456.5 254.4L459.3 255.9L460.8 257.0L463.6 257.8L465.2 258.9L466.7 259.6L467.3 261.8L466.5 263.9L467.6 263.9L468.6 262.8L469.7 261.8L468.4 260.2L469.9 258.5L471.7 259.6L472.5 260.0L472.8 259.1L471.7 258.3L469.3 257.2L467.8 255.4L465.2 255.2L463.4 254.1L461.9 251.7L460.0 250.7L459.3 247.8L462.6 247.4L462.1 248.5L462.8 249.1L463.9 248.0L465.2 249.8L468.2 252.0L471.9 253.9L473.8 255.0L474.9 256.3L474.9 258.5L476.0 260.2L477.5 262.2L478.6 263.3L479.5 265.2L480.1 266.5L481.4 267.4L482.5 266.5L483.0 267.4L482.8 265.0L484.1 264.1L484.7 263.5L482.5 261.8L482.3 258.3L484.3 259.6L485.8 257.6L489.0 257.8L489.5 258.9L489.5 260.7L490.6 261.1L491.4 263.1L489.9 263.3L491.9 265.0L492.1 266.1L493.8 266.8L495.8 266.8L499.2 266.3L502.1 267.2L505.3 267.8L507.7 266.5L509.7 267.0L511.2 267.0L510.5 268.5L510.3 269.4L510.5 270.7L510.3 271.8L509.7 272.8L508.6 275.2L508.2 276.8L507.3 278.1L506.0 278.9L502.7 278.5L501.0 277.9L497.5 278.7L493.4 279.2L491.7 278.3L487.3 277.9L484.7 276.8L481.7 275.2L478.2 275.0L476.2 276.8L475.2 279.6L472.8 280.5L469.5 279.2L468.6 278.7L465.4 276.1L461.3 275.0L457.6 274.4L454.5 272.8L456.0 271.1L456.7 270.0L455.6 268.7L456.5 265.9L454.7 266.5L454.1 265.5L449.5 266.3L446.7 266.1L439.3 266.5L434.8 267.2L431.3 268.9L427.8 270.2L426.1 269.8L422.8 270.0L421.1 268.5Z"/>
<g clip-path="url(#ae)">
<path fill="#b40e7b" d="M595.2 265.7L595.6 265.0L595.0 263.9L595.2 262.8L593.0 262.0L592.5 260.8L593.0 260.0L595.0 258.7L596.7 258.3L598.7 258.7L600.9 257.4L603.0 256.3L605.2 255.2L606.7 254.8L606.7 253.3L607.8 252.6L607.1 250.7L607.1 248.7L610.4 248.0L611.7 247.6L612.8 243.9L616.7 244.3L618.4 244.1L618.7 241.1L621.0 239.8L622.1 239.8L623.2 239.6L625.6 238.9L628.0 237.8L631.2 236.7L633.6 236.1L637.1 236.5L638.8 237.8L643.8 238.3L645.4 236.7L644.9 235.6L647.1 233.3L649.7 234.1L653.0 234.6L654.5 234.8L654.7 236.7L657.7 237.6L661.6 236.9L664.2 237.2L666.9 238.0L668.2 239.3L671.4 239.6L674.7 239.1L677.9 238.7L680.7 237.2L683.4 238.0L686.0 238.1L688.3 238.9L691.6 237.4L691.4 236.9L693.1 234.3L694.9 232.2L698.1 230.4L700.7 230.2L704.0 230.9L706.1 231.7L708.1 234.6L709.4 237.8L711.6 238.7L713.7 239.1L715.9 240.2L716.8 242.4L720.3 242.8L722.4 242.0L725.0 241.5L724.6 243.0L723.7 243.9L723.3 246.1L721.6 248.5L719.0 248.0L717.0 248.9L717.7 250.9L717.4 252.6L717.0 253.3L716.1 254.4L717.0 256.3L721.3 263.9L719.2 274.8L704.0 292.2L697.5 303.1L688.8 324.8L662.7 343.3L659.5 344.9L656.2 344.9L649.7 342.2L638.8 329.2L623.6 307.4L588.9 281.3L593.3 267.2Z"/>
<path fill="#ef8900" d="M575.9 303.1L579.1 287.9L588.9 274.8L601.5 269.4L603.0 271.3L604.5 271.8L605.2 274.4L603.7 275.7L603.9 277.2L603.7 278.7L605.8 279.4L606.9 280.5L608.5 280.9L610.6 280.7L613.9 283.1L617.1 284.4L619.3 285.7L623.9 285.9L625.4 285.5L626.9 285.2L631.2 285.7L632.5 286.1L635.6 284.4L638.8 283.1L641.5 282.6L643.8 285.2L645.4 286.8L646.9 290.0L644.7 292.6L647.3 294.2L648.6 296.8L650.1 299.6L652.2 300.6L649.9 302.2L650.8 304.2L652.3 304.0L651.9 306.6L654.3 307.0L656.2 307.4L658.4 307.7L659.9 309.6L661.9 312.4L661.6 315.3L660.6 315.5L656.2 315.5L654.7 317.0L655.1 320.1L656.0 321.4L654.0 329.2L654.3 333.1L651.9 334.0L649.9 332.7L643.2 335.7L606.3 337.9ZM702.5 259.8L704.0 258.5L706.1 257.4L708.1 255.7L710.5 255.2L711.1 256.3L712.7 255.2L714.2 254.4L716.1 254.4L716.3 254.6L717.0 257.4L712.7 262.4L711.4 262.6L709.4 263.3L708.3 263.5L707.7 264.1L706.4 264.6L701.8 265.0L700.7 260.7Z"/>
<path fill="#e83e58" d="M378.3 269.4L420.4 268.4L428.3 268.3L439.1 266.1L450.0 265.0L456.5 265.0L458.7 270.5L476.0 273.7L486.9 275.9L502.9 278.1L503.2 281.3L506.4 286.8L526.6 319.4L545.5 320.5L562.9 433.6L378.3 433.6Z"/>
<path fill="#5cb4b3" d="M451.3 265.0L451.3 266.3L450.8 267.4L450.6 269.4L450.6 271.3L449.1 273.7L448.9 274.4L450.6 275.9L452.2 276.8L453.2 280.9L454.1 283.5L453.9 286.8L453.0 289.6L454.7 292.6L456.5 293.3L458.6 295.5L461.9 296.6L463.4 297.4L465.2 296.6L484.7 304.2L484.7 312.4L482.5 312.4L481.4 315.1L480.6 318.3L481.4 319.8L482.3 321.8L482.3 322.9L483.8 324.8L486.9 324.2L489.0 325.7L491.2 325.7L493.4 326.1L495.6 325.3L496.9 324.6L498.8 325.3L501.0 324.8L502.1 321.6L502.9 320.5L503.8 320.1L504.7 320.1L504.5 322.2L506.6 325.9L507.1 323.5L508.6 322.7L509.9 320.1L511.0 319.0L511.8 316.6L511.8 315.5L511.6 314.0L512.7 310.7L514.9 308.5L516.4 307.4L518.6 307.4L521.6 311.8L524.2 315.5L526.6 318.8L526.2 318.9L524.7 319.4L523.3 321.4L525.7 322.7L528.1 327.0L536.6 329.2L530.3 335.7L523.8 337.9L521.6 340.5L521.6 348.6L522.9 350.3L523.8 353.1L552.0 353.1L567.2 324.8L575.9 303.1L580.2 295.9L582.0 294.0L583.5 293.7L584.8 293.7L586.7 293.5L585.9 291.3L584.8 289.8L583.5 287.9L585.2 286.1L586.7 285.9L589.1 285.0L591.1 283.1L592.0 281.5L593.3 280.2L594.6 278.9L594.6 277.2L596.1 276.3L594.6 275.2L593.3 274.4L593.0 273.1L593.9 271.8L595.4 271.3L598.7 270.7L599.8 269.4L601.5 269.4L598.7 268.5L596.5 266.8L594.6 266.1L595.2 265.7L595.4 265.2L592.8 265.2L590.0 266.1L588.0 266.8L587.8 264.1L586.7 263.1L585.7 263.1L583.5 265.0L582.2 265.5L579.8 265.9L577.0 265.2L575.0 265.0L573.3 265.9L571.5 267.6L569.6 268.5L567.9 269.8L565.7 269.1L565.5 267.0L563.7 267.0L561.8 265.5L559.6 264.6L557.0 263.9L554.8 263.7L552.9 263.9L550.3 265.2L549.6 265.5L548.7 262.8L541.1 261.8L539.0 262.6L538.8 263.1L537.5 262.6L536.8 261.8L537.5 261.1L535.7 260.7L534.6 261.3L533.6 262.0L532.7 262.1L531.4 261.8L529.8 260.2L529.0 260.9L528.6 262.0L529.2 263.3L528.8 264.1L529.9 265.7L528.6 265.5L526.8 265.5L525.5 265.3L524.6 265.9L522.0 266.0L519.4 266.3L517.3 266.8L515.1 266.4L512.9 266.9L512.3 266.5L511.8 267.8L510.8 268.5L510.5 268.5L508.6 269.4L506.4 273.7L505.3 277.0L497.7 273.7L476.0 271.5L458.7 265.0ZM389.2 286.4L413.8 286.4L413.8 284.2L420.7 282.0L424.8 279.4L426.3 277.2L430.0 276.8L429.1 273.7L428.8 270.7L428.3 267.2L389.2 267.2Z"/>
<path fill="#ced5e3" d="M389.2 286.4L413.8 286.4L413.8 290.0L406.5 290.0L406.5 295.6L404.2 297.1L404.4 300.2L389.2 300.2ZM590.6 266.5L594.3 266.1L596.5 266.5L598.7 268.3L601.5 269.1L604.1 269.8L605.8 272.2L605.4 274.4L605.8 276.3L603.0 275.9L599.8 275.2L597.2 276.1L595.4 275.9L594.1 275.0L592.8 273.1L591.7 271.3L590.6 269.1Z"/>
<path fill="#dba3c8" d="M603.0 268.7L606.9 269.4L608.0 270.9L605.8 272.6L604.1 271.5L602.8 270.5Z"/>
<path fill="#0289c5" d="M508.4 274.4L508.8 274.6L509.9 274.2L510.0 275.5L509.8 276.1L508.6 276.1L508.6 278.3L509.5 278.5L509.7 279.2L508.6 282.4L508.4 282.4L507.1 278.7L507.5 277.9L507.7 277.0Z"/>
</g>
<path fill="#b40e7b" d="M736.5 256.5L738.7 255.9L739.1 254.1L743.7 255.2L748.5 252.4L748.0 250.2L743.1 250.2L740.7 247.6L739.8 249.8L739.6 252.6L737.2 252.6L736.5 254.6ZM716.8 272.6L718.1 271.1L721.3 269.4L724.6 269.1L727.9 268.9L729.4 266.1L730.7 265.0L730.0 266.5L733.3 265.5L735.5 262.8L736.5 260.7L736.5 258.5L737.6 257.0L739.4 256.5L739.8 258.5L740.9 260.7L739.8 263.3L738.7 265.0L738.3 267.2L737.8 268.9L736.5 270.5L735.5 269.8L734.4 271.1L733.3 271.3L730.0 271.3L729.6 272.0L727.4 273.7L725.9 272.0L724.6 271.1L721.3 271.8L719.2 272.8ZM719.2 274.4L721.3 272.6L724.8 272.2L725.0 273.1L723.5 274.2L721.3 275.2L720.3 275.0ZM714.0 274.2L715.9 272.8L717.4 272.8L719.0 274.8L718.1 278.1L716.3 279.2L715.3 278.5L715.3 275.9L714.4 275.2ZM693.3 296.6L694.6 298.7L695.3 297.6L696.6 294.4L697.5 292.2L696.4 291.6L694.9 292.9L693.6 295.5ZM668.4 304.8L670.3 307.0L672.5 306.4L673.6 304.0L672.5 302.9L670.3 303.1L668.6 304.2ZM693.1 306.4L694.4 306.4L696.4 306.1L697.9 306.4L697.7 309.6L696.6 312.2L696.8 314.6L698.5 315.7L700.7 316.6L702.2 318.3L701.4 319.0L698.8 316.8L696.8 316.4L694.4 315.7L695.1 314.4L693.1 312.9L692.7 311.1L694.0 310.5L694.2 308.3ZM697.5 331.4L698.5 329.2L700.7 327.9L702.9 328.1L704.8 325.3L707.0 327.7L707.4 330.9L706.6 332.9L705.3 334.4L704.6 333.3L702.2 333.1L701.4 329.8L699.0 330.5ZM702.5 319.4L705.7 320.5L705.1 322.7L703.5 324.4L702.5 322.7ZM698.3 323.8L700.1 322.7L700.7 324.8L699.6 326.8L698.5 325.9ZM697.2 320.9L700.1 321.6L698.8 323.8L697.5 323.8ZM700.5 322.2L701.8 324.0L701.6 325.7L700.5 324.2ZM693.8 317.2L696.6 317.7L695.7 320.1L694.2 319.2ZM687.0 328.3L692.5 321.6L691.6 322.2L688.3 327.9ZM738.7 352.3L742.0 353.8L746.3 354.9L749.1 357.5L751.3 360.7L752.8 360.1L753.9 364.0L756.7 367.3L759.3 369.0L760.0 369.4L757.2 369.2L752.8 368.4L750.7 365.5L746.3 362.9L744.1 364.7L742.0 366.6L738.7 366.4ZM754.6 358.8L758.2 358.1L761.5 356.0L763.2 356.4L762.2 357.9L759.3 360.1L756.1 360.1ZM760.0 352.3L762.6 353.8L765.2 356.4L764.3 357.0L761.7 354.2ZM768.2 357.9L771.1 360.7L770.0 361.4L768.5 359.2ZM772.4 361.0L774.3 361.8L774.1 362.5L772.6 361.8ZM776.9 363.1L779.5 364.7L779.1 365.1L777.1 363.8ZM773.4 364.2L775.4 364.9L774.7 365.5L773.7 364.9ZM782.8 368.8L785.0 369.7L784.5 370.1L783.0 369.4ZM779.1 366.8L781.7 367.5L781.3 368.1L779.5 367.9ZM781.0 364.7L783.2 366.8L782.6 367.3L781.3 365.7ZM670.5 342.2L672.5 344.4L675.3 344.4L677.9 343.3L681.2 343.3L683.4 340.7L683.4 337.9L687.9 337.5L689.4 337.0L691.4 335.7L691.6 335.1L689.9 334.0L688.1 332.9L686.4 331.4L684.4 333.5L682.7 335.3L682.3 335.9L680.1 336.8L677.9 339.6L674.7 341.2L673.6 343.1L672.3 342.9ZM678.4 403.6L679.2 399.9L680.3 394.0L686.0 391.4L689.9 390.8L695.3 389.0L697.9 385.8L699.4 382.3L701.8 382.1L704.0 379.2L707.2 376.8L710.5 379.2L713.7 379.0L714.8 375.5L716.6 373.6L719.2 371.6L721.3 372.3L725.7 373.1L729.2 372.7L729.8 373.4L727.6 376.0L726.8 378.8L730.0 381.0L734.4 384.2L737.6 384.7L739.8 380.3L740.0 374.9L740.9 371.6L742.0 369.9L743.7 372.5L744.1 377.1L748.0 379.2L748.5 383.6L750.2 387.9L751.3 388.6L755.6 391.2L758.2 395.1L761.1 398.4L764.8 401.6L765.8 407.5L765.0 413.0L763.7 417.3L760.9 420.4L758.7 424.3L758.2 428.2L753.9 428.8L750.4 431.7L747.4 430.1L745.2 429.9L743.1 431.0L739.8 429.9L736.5 428.4L735.5 426.0L733.3 424.1L733.3 422.5L731.1 423.8L731.5 419.5L730.0 422.3L727.9 422.7L726.8 422.1L724.2 418.4L720.3 416.2L717.0 415.1L712.7 415.6L708.3 416.9L704.0 418.2L701.8 419.9L697.5 420.4L692.0 421.2L688.8 422.7L684.4 422.5L682.3 421.2L683.6 419.5L683.8 416.2L682.3 410.8L681.4 408.6L679.0 404.3ZM746.5 435.1L749.6 436.0L754.6 435.6L754.6 438.4L753.5 440.6L751.3 441.5L748.0 438.6L746.7 436.5ZM807.5 421.4L809.3 422.7L811.4 424.9L813.6 426.0L814.3 427.7L816.9 429.3L820.1 428.6L819.0 431.4L816.9 432.1L816.4 434.1L813.2 437.1L811.7 436.5L812.5 433.6L809.9 432.1L811.7 430.4L811.4 427.1L809.3 424.5ZM807.5 434.7L810.4 436.2L810.8 437.5L809.3 439.1L807.7 441.5L804.5 443.0L803.4 446.2L800.2 448.0L796.2 447.1L794.1 446.0L796.2 444.1L798.4 442.3L802.8 440.2L804.5 438.0L806.0 435.4ZM788.6 390.5L791.9 392.3L795.2 395.1L794.1 395.3L790.8 393.6ZM817.5 384.7L820.1 384.5L820.3 386.2L818.0 386.2ZM820.8 383.2L823.4 381.8L823.2 382.7L821.2 383.6ZM794.3 379.2L795.6 379.2L795.6 381.0L794.7 380.5ZM795.6 381.4L796.9 382.1L796.2 382.7ZM797.5 384.7L798.6 385.1L798.0 385.5ZM799.9 388.8L800.6 389.0L800.2 389.5Z"/>
<path fill="#ef8900" d="M605.8 333.5L606.1 329.2L606.3 325.3L608.5 328.1L610.4 331.4L608.5 333.3L606.7 333.8ZM639.5 334.4L644.3 335.3L646.9 338.3L649.7 341.2L653.0 342.7L656.2 345.3L657.9 347.7L659.5 349.9L660.6 352.0L662.5 354.2L662.5 359.2L659.5 359.4L657.3 356.4L654.5 354.2L651.9 351.4L650.4 348.3L648.2 345.5L646.9 342.7L644.9 341.2L642.1 338.3L639.9 336.2ZM661.0 361.4L662.7 359.4L667.1 360.3L671.4 361.6L673.6 360.7L676.8 361.6L681.0 363.4L681.2 365.5L675.8 364.7L671.4 364.0L667.1 363.4L663.8 362.7ZM681.2 364.2L683.8 364.9L682.7 365.7ZM684.4 364.9L688.8 364.4L691.2 365.3L687.7 366.2L684.9 366.0ZM692.7 364.9L699.4 364.4L698.5 365.5L693.1 365.7ZM690.9 367.3L694.9 368.1L693.8 369.0L691.4 367.9ZM700.7 369.0L702.9 367.3L705.1 365.1L708.8 364.9L706.1 366.6L702.9 368.4L701.2 369.4ZM670.5 342.2L669.2 343.3L669.2 345.5L669.9 348.3L671.4 350.5L671.8 352.9L673.6 353.1L675.3 354.2L677.9 353.8L681.4 355.3L684.4 355.1L685.5 353.1L685.5 351.0L686.6 348.8L687.7 346.6L688.6 344.6L690.7 344.4L688.8 342.2L688.3 340.1L687.9 337.5L683.4 337.9L683.4 340.7L681.2 343.3L677.9 343.3L675.3 344.4L672.5 344.4ZM704.4 343.3L701.8 344.9L697.5 344.4L694.9 343.8L693.1 345.1L692.7 347.7L692.0 349.9L690.9 353.1L692.0 358.6L694.0 358.8L694.0 353.1L695.3 352.5L696.4 355.3L699.2 357.0L697.5 353.1L699.2 351.6L700.3 348.8L696.4 348.3L698.5 345.5L700.7 345.7L702.9 345.3ZM709.6 342.5L710.5 345.5L712.0 343.3L710.5 348.3L710.3 345.5ZM710.5 353.1L716.6 353.8L715.9 354.9L711.6 354.4ZM706.1 353.6L708.8 353.8L707.4 354.9ZM717.4 348.6L720.3 347.5L723.7 348.6L725.7 353.8L728.9 351.6L731.8 349.9L734.4 351.0L738.7 352.3L738.7 366.4L735.5 364.4L733.3 364.7L732.2 362.5L733.3 360.7L731.1 357.5L726.8 356.2L723.5 355.1L721.3 355.3L719.2 352.7L722.4 351.6L719.2 351.0ZM633.6 317.2L634.5 319.4L633.9 321.6L633.4 319.4Z"/>
<path fill="#e83e58" d="M539.6 372.7L541.1 376.0L542.2 380.3L540.5 383.6L539.8 386.8L537.9 392.3L536.4 396.6L534.9 400.8L531.4 402.1L528.1 400.6L527.5 397.7L526.6 394.5L528.8 391.2L529.0 387.9L528.1 384.7L529.2 381.8L533.6 380.8L535.7 378.1L537.5 376.0L538.8 373.6ZM377.9 309.6L379.8 310.5L381.6 314.0L382.2 313.3ZM450.8 338.6L451.9 338.6L451.7 339.6ZM552.4 392.3L553.7 392.5L553.3 393.2ZM557.0 390.1L558.1 390.3L557.4 391.2ZM526.4 371.4L527.0 372.3L526.6 372.5ZM517.7 359.2L518.4 359.7L518.1 360.5Z"/>
<path fill="none" stroke="#fff" stroke-opacity="0.45" stroke-width="0.6" stroke-linejoin="round" d="M126.5 195.1L126.5 215.4L130.8 216.1L134.1 218.2L138.4 216.5L142.8 219.3L148.2 223.7L150.4 225.0L149.1 227.6M164.9 240.0L225.9 240.0L225.9 239.1L227.2 240.6L230.7 240.9L238.1 242.2L240.9 241.5L248.5 244.6L249.8 245.4L251.3 246.3L253.7 248.0L253.5 253.3L252.2 255.0L253.5 255.9L261.1 253.5L260.9 252.4L267.0 250.4L270.2 248.7L277.4 248.7L279.1 247.6L280.6 245.0L282.4 243.5L285.4 244.1L285.4 247.2L287.1 249.1M178.4 275.9L183.6 275.5L191.6 278.5L197.7 278.5L197.7 277.4L201.4 277.4L205.7 282.2L209.0 283.5L212.5 281.8L216.6 286.8L221.6 290.3M232.4 315.1L232.4 313.3L233.5 311.6L236.3 311.6L236.3 307.9L239.1 307.9L239.1 307.5L240.9 306.4M239.1 307.9L238.9 312.0L241.1 312.4M238.9 312.0L239.6 314.0L238.6 315.3L237.0 316.8M238.6 315.3L240.5 316.4L242.0 317.4M243.7 318.3L245.9 316.4L248.1 315.1L252.0 314.0M246.5 322.5L250.2 323.1L251.1 322.9M252.6 329.0L253.3 325.7M263.5 330.9L264.6 327.9M277.8 320.9L275.9 322.7L274.6 326.6L276.3 330.3L280.4 331.6L286.1 333.1L285.4 336.8L286.5 339.4L287.1 342.5L287.4 344.0M287.4 344.0L281.7 344.2L281.9 345.3L280.6 345.3L280.6 349.6L280.8 355.7M280.8 355.7L279.1 354.9L274.3 351.8L272.6 349.4L269.3 346.8M269.3 346.8L265.4 345.7L261.5 343.6M269.3 346.8L268.5 350.1L265.4 353.1L262.4 354.0L260.7 357.3L258.3 354.0M302.3 328.1L299.3 333.8L300.8 335.3L296.9 337.7L292.6 338.3L293.7 341.8L290.4 344.6L287.4 344.0M300.8 335.3L302.8 337.2L303.2 343.1L306.7 343.3L309.9 342.5L315.4 341.8L318.6 341.6L320.6 337.5M308.6 333.8L306.7 339.0L309.9 342.5M315.4 334.2L314.3 339.0L315.4 341.8M280.8 355.7L274.3 357.5L272.2 362.5L273.9 367.1L275.6 368.4L279.3 370.5L281.5 370.3M281.5 370.3L282.8 374.2L283.5 377.1L281.7 380.3L282.8 382.1L281.7 384.7L279.8 386.5M281.5 370.3L285.0 369.9L290.6 367.7L290.8 371.6L293.7 373.8L298.0 376.0L300.2 376.0L301.7 379.5L302.1 382.1L305.8 382.1L306.0 384.7L307.1 385.8L306.2 389.7M281.7 384.7L283.9 387.7L283.2 391.2L284.5 393.4L286.7 396.2L290.0 394.7L292.8 396.0L296.3 394.5L298.6 389.2L304.3 388.6L306.2 389.7M286.7 396.2L287.1 398.8L283.9 405.3L281.3 411.9L280.6 418.4L279.5 424.9L278.5 431.4L276.7 438.0L277.4 442.3L276.3 448.9L273.7 454.3L275.6 457.6L277.4 459.7L284.1 460.6M296.3 394.5L302.3 398.8L305.6 404.3L311.0 406.2L314.1 402.3M306.2 389.7L306.9 394.7L311.5 395.1L312.3 398.8L314.1 402.3L315.8 404.3L315.6 405.8L311.5 408.6L307.6 412.3L306.2 417.3L305.8 420.6M307.6 412.3L311.9 413.6L316.7 419.9M457.3 218.5L459.7 215.0L459.1 212.8L460.6 207.4L464.1 204.1L467.3 199.7L471.7 197.6L477.1 196.5L478.2 196.0L484.7 197.1L488.4 194.5L491.2 194.3L495.3 196.4L496.6 195.4L497.9 195.0M477.1 196.5L481.4 197.6L483.8 199.7L485.1 203.4M495.3 196.4L494.5 198.7L497.7 199.5L496.6 201.9L497.7 205.2L498.8 207.4L501.0 209.8L496.6 212.8L493.0 215.0M493.4 217.4L492.3 220.4L492.7 221.5L493.8 224.3L499.5 225.6L499.9 229.1L503.2 230.2L501.6 233.3L506.4 232.8L509.5 236.5L515.1 238.0L519.4 238.7L519.0 242.6L515.5 244.1M485.4 220.6L488.0 221.1L492.3 221.3M478.2 224.5L484.7 224.1L490.3 225.4L493.8 224.3M490.3 225.4L490.8 227.4L488.0 228.7L484.7 229.1L483.6 229.2L482.1 227.2L478.6 226.3M475.2 228.2L482.1 228.2M483.6 229.2L484.5 231.3L483.8 233.5L484.9 235.9L483.6 237.2L481.7 239.8M483.8 234.3L489.0 233.7L493.4 234.3L499.0 235.0L501.6 233.3M463.4 229.3L464.3 232.2L464.7 235.6L468.4 236.7L471.7 237.8L474.9 238.9L481.7 239.8M451.3 227.2L454.1 227.4M448.2 230.6L445.6 233.0L445.8 235.6L445.6 236.1L446.5 237.2L445.8 237.8L446.7 238.9L450.4 240.0L449.1 243.0L453.2 243.0L455.4 243.3L459.1 243.0L460.8 243.3L460.8 241.5L462.6 240.4L459.7 238.3L458.9 237.2L461.9 236.3L464.7 235.6M440.0 234.8L442.4 234.8L445.2 235.4L445.6 236.1M438.0 235.4L439.1 236.3L441.7 237.2L443.0 237.8L445.2 238.9L446.5 238.9M445.6 246.1L447.4 243.7L449.1 243.0M448.9 251.3L447.8 250.2L447.4 248.5L447.8 246.7L451.1 245.9L452.1 247.0L454.5 246.1L455.4 244.6L453.4 243.3M455.4 244.6L459.1 244.3L462.3 245.4L462.1 247.0L462.3 247.4M428.7 252.2L432.6 253.7L435.9 254.1L439.5 254.4M413.3 255.4L415.0 255.2L418.5 255.4L417.6 257.4L417.4 260.4L416.8 263.1L416.5 265.7M462.6 240.4L465.2 240.0L469.3 240.9L469.7 242.2L468.4 243.3L467.6 244.8L465.2 245.2L462.3 245.4M469.3 240.9L471.2 240.2L473.4 238.9M469.7 242.2L473.4 242.6L477.1 241.1L480.6 241.3L481.7 239.8M480.6 241.3L482.3 242.4L479.3 245.0L476.7 246.3L473.6 246.7L470.2 246.7L468.4 245.4L467.6 244.8M482.3 242.4L486.7 242.8L490.3 241.7L493.8 247.6L497.1 248.3M490.3 241.7L494.5 241.7L497.5 245.4L493.8 247.6M476.7 246.3L479.3 248.3L481.4 249.8L481.9 250.9L485.8 251.5L489.3 250.9L492.3 250.9L494.7 251.5M481.9 250.9L481.2 253.0L482.3 254.8L482.3 256.7L485.8 256.3L489.3 255.9L489.9 255.4L493.4 255.2M489.9 255.4L489.0 257.8M476.0 260.2L478.2 258.3L482.3 256.7M473.8 255.0L474.9 253.0L473.8 249.1L467.3 248.3L466.7 250.4L470.8 253.3M473.8 249.1L474.7 246.3M474.9 253.0L477.1 254.6L479.3 254.6L481.2 253.0M474.9 256.3L477.1 254.6M519.2 252.2L524.9 252.6L529.2 253.7L533.6 255.4L536.4 257.0L538.1 255.7M522.9 256.3L525.5 256.3L527.0 257.2L530.3 256.7L533.6 257.2M530.3 256.7L531.4 258.5L533.6 260.7L533.6 262.0M527.0 257.2L527.3 259.4L529.9 260.2M539.0 245.4L538.1 243.0L533.8 241.1L535.7 237.8L538.3 236.5L543.3 234.3L550.9 235.6L553.5 236.5L557.4 235.6L562.6 236.3L566.1 235.6L565.0 233.5L565.0 231.3L567.2 229.3L573.7 227.8L580.2 227.2L585.7 226.5L587.2 228.9L592.2 230.2L598.7 228.9L600.9 230.9L606.3 236.1L612.8 235.6L618.2 238.9L622.1 239.8M547.7 255.2L552.0 256.7L554.2 256.7L554.2 248.7L559.6 247.4M566.3 249.6L567.2 252.0L573.5 251.5L576.1 255.2L580.2 257.8L582.4 256.3L586.5 254.6L587.2 253.5L592.2 253.0L594.3 252.6L597.6 253.0L604.5 253.5L606.7 254.8M554.2 256.7L556.3 256.7L558.5 254.1L562.9 255.2L565.0 257.0L568.3 260.0L571.5 262.0L574.8 263.5L577.0 265.2M586.5 254.6L587.8 256.3L591.1 257.8L592.4 260.7M579.8 265.9L579.1 262.8L580.9 260.7L583.5 259.6L585.7 257.4M583.5 259.6L586.7 260.7L592.4 260.7M537.9 281.4L536.2 279.2L535.5 276.1L532.5 273.7L531.2 272.6L532.9 270.0L530.7 268.3L529.9 265.7M564.8 282.6L566.8 279.2L564.6 278.1L564.2 274.6L564.8 272.0L565.7 269.1M566.3 291.8L566.8 289.6L569.8 288.7L570.0 287.4L568.9 287.2L568.3 285.2L566.1 283.5L564.8 282.6M564.8 282.6L568.3 282.6L571.5 282.4L576.5 281.5L577.0 279.2L580.2 277.4L583.1 277.2L584.6 274.8L584.4 272.6L587.0 271.8L587.8 269.4L587.2 268.3L590.0 267.2M525.5 310.9L528.1 308.7L533.6 309.0L535.7 309.6L539.0 306.1L545.5 305.3L553.5 303.1L553.1 297.2L546.8 296.8L544.6 293.7M545.5 305.3L547.9 310.5M553.1 297.2L554.2 294.4L555.0 292.4M533.6 283.3L537.7 284.6M508.5 282.7L510.8 283.1L514.0 280.7L515.1 278.1L517.3 277.0L521.6 278.3L529.6 283.1L533.6 283.3L536.2 281.3L536.8 281.3M517.3 277.0L517.9 276.1L516.8 273.9L510.3 275.5M516.8 273.9L521.6 271.8L522.0 270.5L524.6 265.9M510.5 271.3L512.1 272.2L510.3 274.2M487.3 277.9L486.9 282.4L486.9 298.7L500.6 298.7L512.7 298.7M484.7 304.2L486.9 303.1L486.9 298.7M457.6 274.4L457.6 276.1L455.0 279.2L453.2 280.9M413.8 287.2L422.2 292.2L418.5 292.4L420.7 310.7L408.7 312.9L406.1 314.6L401.1 310.5L396.8 311.4M422.2 292.2L435.2 300.9L439.8 305.3L441.7 304.8L445.6 304.2L458.6 295.5M441.7 304.8L441.7 310.7L440.2 313.3L434.8 314.0L433.0 314.4L431.5 313.7L428.3 315.7L425.0 317.7L422.8 320.5L420.9 324.0L419.6 324.4M406.1 314.6L407.9 319.6L410.9 320.9L414.6 322.7L415.2 324.2L419.6 324.4M465.2 296.6L466.3 303.1L462.1 316.8L456.5 317.7L450.0 318.5L443.5 316.8L440.4 321.1L436.9 319.6L434.6 317.7L433.0 314.4M482.3 322.9L478.2 325.9L473.8 327.0L468.9 330.3L466.3 330.3M462.1 316.8L465.2 320.5L464.1 324.8L466.3 325.1L462.8 325.9L466.3 330.3M463.4 318.1L462.3 322.7L459.7 327.0L457.6 331.4L453.9 332.9L451.3 336.6M440.4 321.1L438.7 327.0L438.5 332.7M435.2 333.3L434.1 328.1L432.6 322.7L426.7 322.7L426.5 325.7L427.0 329.2L425.9 335.5M432.6 322.7L434.8 322.7L437.6 322.0M416.3 337.1L414.6 332.5L415.2 329.2L414.8 325.9L419.6 324.4M407.6 331.6L409.8 328.5L412.0 328.1L414.6 330.3M403.7 327.0L407.6 324.8L409.8 328.5M396.3 319.6L402.9 319.2L406.1 314.6M396.1 317.2L402.6 317.7M453.9 341.8L457.1 341.8L461.5 341.8L467.6 342.9L467.6 340.1L465.2 337.9L464.1 335.7L466.3 330.3M467.6 340.1L472.8 339.0L474.9 335.5L481.4 337.2L486.9 335.7L492.1 335.5L488.0 331.4L483.8 324.8M459.1 359.2L461.9 357.0L466.3 355.7L467.8 351.0L470.6 348.8L471.2 344.4L472.8 339.0M457.1 341.8L457.6 346.6L456.5 352.0L458.2 356.8M492.1 335.5L495.6 337.0L499.5 339.0L500.3 341.8L496.9 349.4L495.6 352.7L496.0 354.0M459.1 359.7L467.3 359.7L470.6 364.0L474.9 361.8L479.9 362.5L480.4 367.3L484.7 370.5L487.5 371.0L492.3 373.4L495.6 375.8L496.6 373.1L494.7 367.5L499.5 364.7M458.2 384.2L463.0 384.5L472.8 384.5L476.0 385.8L483.4 384.9L487.5 385.3M480.4 374.9L484.7 374.9L484.7 370.5M476.0 394.5L476.0 400.6L476.0 408.4L468.4 408.8M476.0 400.6L482.5 401.6L488.0 402.1L491.2 398.8L496.2 394.9L492.3 391.2L489.0 385.8L487.5 385.3M476.0 394.5L478.2 386.4L483.2 385.8L487.5 385.3M487.5 385.3L492.3 383.6L495.6 381.0L498.6 380.5L504.0 382.9L503.8 387.5L503.2 392.3L500.6 395.3L501.9 399.9L502.1 402.9L504.0 404.9M499.5 364.7L504.0 367.1L505.3 369.4L504.2 373.8L503.6 376.2L498.6 380.5M504.2 367.3L507.7 371.6L509.2 377.7L510.3 381.4L508.6 383.8L507.1 381.4L504.7 377.1L505.3 369.4M520.3 369.4L515.1 371.2L508.6 371.6L507.7 371.6M517.7 356.8L514.0 353.6L506.4 348.8M506.4 346.6L507.5 344.4L508.6 340.1L506.4 337.5L510.8 336.8L515.1 338.8L518.4 339.0L521.6 337.9L523.6 337.9M499.5 339.0L504.2 338.3L506.4 337.5M506.4 337.5L508.6 335.7L507.5 332.5L504.2 329.6L506.6 325.9M511.8 315.5L514.0 315.7L516.2 315.1L518.4 315.1L520.5 316.1L523.1 319.4L524.7 319.4M498.8 348.8L499.7 348.8L498.6 352.3L495.6 352.7M491.2 411.4L493.8 409.0L496.4 410.8L494.0 413.2L491.2 411.4M623.2 239.6L623.6 241.1L628.0 242.6L630.2 245.4L629.1 247.6L633.4 248.7L639.9 250.4L643.2 253.5L649.7 253.9L660.6 256.1L664.9 254.6L672.5 253.7L675.8 251.5L680.1 248.9L684.4 248.3L687.7 245.4L692.5 245.0L692.0 243.3L688.3 242.8L684.4 242.6L686.0 238.1M652.2 300.6L654.3 297.9L657.3 297.4L660.6 296.1L663.8 297.0L667.1 299.6M654.3 297.9L656.2 299.8L659.5 302.0L660.6 305.3L662.7 307.4L664.9 310.7L666.0 312.9L666.0 314.6M661.6 315.3L663.8 315.1L666.0 314.6L666.2 318.3L663.8 321.1L661.6 322.7L659.5 324.0M606.5 283.9L609.5 285.7L613.9 287.0L617.1 288.1L620.4 288.9L623.9 289.2L623.9 285.9M625.4 287.2L628.0 288.3L632.5 288.1L632.5 286.1M625.8 299.4L625.2 296.6L624.7 293.7L623.6 293.1L624.5 291.6L625.6 289.4L627.6 290.3L629.1 291.8L632.3 292.0L633.2 294.0L632.1 294.2L630.8 296.3L631.9 295.9L633.0 299.8L632.8 301.3M633.0 299.8L634.9 298.1L635.4 294.6L637.1 294.6L638.2 291.1L639.3 288.5L641.9 287.2L643.8 285.2M646.7 324.8L647.7 322.7L648.8 320.5L648.0 317.9L645.8 314.0L646.7 311.1L644.9 308.5L644.7 306.1L645.8 303.5L649.9 302.2"/>
<path fill="#fff" d="M534.0 249.8L535.7 247.6L539.0 245.4L543.3 244.3L547.7 244.8L547.9 247.6L544.0 248.3L544.4 249.8L542.2 249.6L546.6 254.1L547.4 255.9L549.6 255.9L550.1 257.4L547.7 257.6L547.4 257.4L547.7 259.6L549.6 262.0L549.6 265.5L543.3 266.5L540.1 265.0L538.8 263.1L539.0 260.7L541.8 258.9L540.1 257.8L538.1 255.7L535.7 253.0L535.7 250.9ZM492.3 254.1L493.4 252.0L494.7 250.4L497.1 248.3L499.2 245.4L501.6 245.2L505.3 246.5L503.2 247.8L505.3 249.8L507.5 249.4L510.8 248.7L512.1 248.0L508.6 246.1L514.0 244.1L517.7 243.9L515.7 245.2L514.7 246.5L512.9 248.0L513.6 248.9L514.7 249.4L517.3 250.9L518.8 251.7L522.7 255.2L522.9 256.1L519.4 257.4L518.8 257.4L514.0 257.4L510.8 255.9L508.8 255.2L504.2 255.2L499.9 257.2L495.6 257.0L493.4 256.1L493.2 255.2ZM490.6 258.7L492.3 257.6L495.6 257.4L496.2 258.1L493.4 258.7L491.2 259.1ZM232.7 245.0L237.2 245.2L242.6 245.4L248.1 245.4L249.2 245.4L248.1 244.3L244.8 240.6L240.9 240.4L238.3 242.2L236.1 243.5L234.0 244.1ZM242.0 255.9L243.7 254.6L245.2 252.0L245.0 249.8L247.0 248.0L248.5 247.0L245.9 246.7L242.6 248.7L241.8 250.9L242.0 254.1ZM249.2 246.7L252.4 246.5L255.7 246.5L257.8 247.6L258.9 249.8L255.2 250.2L253.5 253.0L251.3 251.3L251.8 249.8L250.2 247.6ZM251.3 255.9L255.7 256.3L261.1 253.5L257.8 253.9L253.5 255.2ZM259.4 252.4L263.3 252.4L267.2 252.0L266.5 250.4L263.3 250.9L260.4 251.5ZM280.6 380.1L282.1 379.9L283.5 381.8L282.4 382.3ZM498.6 343.8L499.7 344.4L500.8 341.8L500.1 341.6ZM496.6 347.0L497.5 347.3L497.3 347.9L496.4 347.9ZM495.3 350.3L496.2 350.1L496.0 352.0L495.3 351.8ZM276.5 323.5L277.4 323.3L278.0 325.1L277.4 326.4L276.5 325.7ZM501.6 347.7L504.2 345.7L506.4 346.6L507.5 348.8L505.5 352.3L502.1 352.7L501.2 349.9ZM496.0 354.0L496.9 354.0L498.8 359.7L500.3 365.1L499.0 365.7L496.9 360.7ZM506.4 367.3L507.7 367.9L509.2 377.7L508.4 377.9L507.1 372.7ZM559.0 246.7L561.3 245.9L563.3 247.2L562.9 249.8L560.7 250.9L559.2 249.6Z"/>
</svg>
<div class="vl" style="left:249.00px;top:79.80px;height:118.70px"></div>
<div class="vl" style="left:457.30px;top:79.80px;height:134.80px"></div>
<div class="vl" style="left:631.10px;top:79.80px;height:166.70px"></div>
<div class="hl" style="left:390.20px;top:347.10px;width:80.20px"></div>
<div class="vl" style="left:390.20px;top:348.70px;height:184.30px"></div>
<div class="vl" style="left:559.60px;top:289.10px;height:149.80px"></div>
<div class="hl" style="left:535.30px;top:438.90px;width:25.90px"></div>
<div class="vl" style="left:535.30px;top:440.50px;height:92.50px"></div>
<div class="vl" style="left:674.90px;top:366.10px;height:166.70px"></div>
<div class="t title">Fig. 7. Incident cases of four curable STIs among adults (15–49 years old),<br>by WHO region, 2020</div>
<div class="glob"></div>
<div class="t h" style="left:42px;top:77px;letter-spacing:-0.5px">GLOBAL</div>
<div class="t n" style="left:42px;top:96px;color:#231f20">374 million</div>
<div class="t r" style="left:42px;top:110px">[286 million–481 million]</div>

<div class="t h" style="left:254px;top:77px">REGION OF THE AMERICAS</div>
<div class="t n" style="left:254px;top:96px;color:#5fa033">74 million</div>
<div class="t r" style="left:254px;top:110px">[53 million–104 million]</div>

<div class="t h" style="left:463px;top:77px;letter-spacing:-0.45px">EUROPEAN REGION</div>
<div class="t n" style="left:463px;top:96px;color:#1a8fc9">23 million</div>
<div class="t r" style="left:463px;top:110px;letter-spacing:-0.3px">[16 million–31 million]</div>

<div class="t h" style="left:636px;top:77px">WESTERN PACIFIC REGION</div>
<div class="t n" style="left:636px;top:96px;color:#b5167f">86 million</div>
<div class="t r" style="left:636px;top:110px">[61 million–117 million]</div>

<div class="t h" style="left:396px;top:485px;letter-spacing:-0.1px">AFRICAN REGION</div>
<div class="t n" style="left:396px;top:504px;color:#e8435a">96 million</div>
<div class="t r" style="left:396px;top:520px;font-size:12.6px">[66 million–134 million]</div>

<div class="t h" style="left:541px;top:453px;line-height:15.5px"><span style="letter-spacing:-0.19px">EASTERN</span><br>MEDITERRANEAN<br><span style="letter-spacing:-0.35px">REGION</span></div>
<div class="t n" style="left:541px;top:504px;color:#5bb5b0">36 million</div>
<div class="t r" style="left:541px;top:520px;font-size:12.6px">[22 million–56 million]</div>

<div class="t h" style="left:680px;top:469px;line-height:15.5px"><span style="letter-spacing:0.1px">SOUTH-EAST ASIA</span><br><span style="letter-spacing:-0.35px">REGION</span></div>
<div class="t n" style="left:680px;top:504px;color:#f0890f">60 million</div>
<div class="t r" style="left:680px;top:520px;font-size:12.6px">[32 million–107 million]</div>

<div class="t h" style="left:41px;top:391px;letter-spacing:-0.33px">WHO REGIONS</div>
<div class="sw" style="top:411.30px;background:#e83e58"></div><div class="t lg" style="left:63px;top:408.60px">African Region</div>
<div class="sw" style="top:429.97px;background:#62a132"></div><div class="t lg" style="left:63px;top:427.27px">Region of the Americas</div>
<div class="sw" style="top:448.64px;background:#ef8900"></div><div class="t lg" style="left:63px;top:445.94px">South-East Asia Region</div>
<div class="sw" style="top:467.31px;background:#0289c5"></div><div class="t lg" style="left:63px;top:464.61px">European Region</div>
<div class="sw" style="top:485.98px;background:#5cb4b3"></div><div class="t lg" style="left:63px;top:483.28px">Eastern Mediterranean Region</div>
<div class="sw" style="top:504.65px;background:#b40e7b"></div><div class="t lg" style="left:63px;top:501.95px">Western Pacific Region</div>
<div class="sw" style="top:523.32px;background:#ced5e3"></div><div class="t lg" style="left:63px;top:520.62px">Not applicable</div>
<div class="t" style="left:42px;top:554px;font-size:13px">Source: WHO, 2021.</div>
</body></html>
